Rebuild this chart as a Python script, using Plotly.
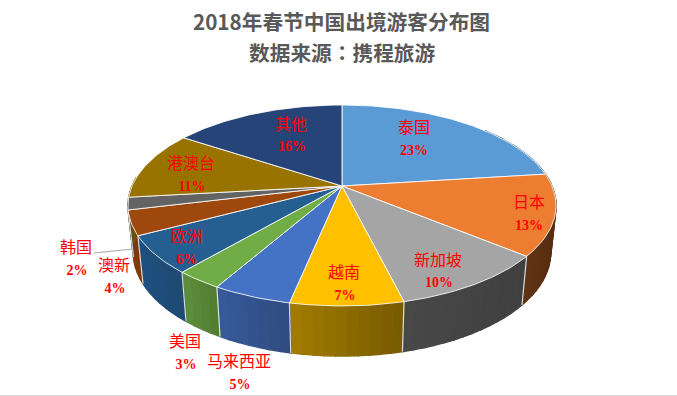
import math
import plotly.graph_objects as go

# ---- data ----
categories = ["泰国", "日本", "新加坡", "越南", "马来西亚", "美国", "欧洲", "澳新", "韩国", "港澳台", "其他"]
values = [23, 13, 10.15, 7.1, 5, 3, 6, 3.95, 2, 11.1, 15.7]
top_colors = ["#5B9BD5", "#ED7D31", "#A5A5A5", "#FFC000", "#4472C4", "#70AD47",
              "#255E91", "#9E480E", "#636363", "#997300", "#264478"]
wall_left = ["#3F6D96", "#603514", "#484848", "#A37C00", "#375A9C", "#5E8F3B",
             "#1F5080", "#843C0C", "#444444", "#6B5000", "#1A3054"]
wall_right = ["#3F6D96", "#5A3012", "#404040", "#765A00", "#2F4B7E", "#507B32",
              "#1F4A70", "#7A380B", "#444444", "#6B5000", "#1A3054"]
title_main = "2018年春节中国出境游客分布图"
title_sub = "数据来源<span style=\"font-family:'Noto Sans CJK TC'\">：</span>携程旅游"

# ---- label placement (pixels of the plot area) ----
name_pos = [(414, 129), (529, 204), (438, 262), (344, 274), (239, 363), (185, 343),
            (187, 238), (114, 267), (76, 249), (191, 165), (291, 126)]
pct_pos = [(414, 151), (529, 226), (439, 283), (345, 296), (240, 385), (186, 365),
           (187, 260), (115, 289), (77, 271), (192, 187), (292, 147)]
leader_x = [94, 133]
leader_y = [253, 249]

# ---- projection of the tilted disc ----
CX, CY = 342, 186
B, A, K = 210, 96.7, 0.194
DEPTH, WALL_SX, WALL_SY = 46.5, 0.975, 1.03


def top_pt(deg):
    r = math.radians(deg)
    u, v = math.sin(r), -math.cos(r)
    d = 1 - K * v
    return CX + B * u / d, CY + A * v / d


def low_pt(deg):
    x, y = top_pt(deg)
    return CX + (x - CX) * WALL_SX, CY + (y - CY) * WALL_SY + DEPTH


def hex_mix(c1, c2, t):
    a = [int(c1[i:i + 2], 16) for i in (1, 3, 5)]
    b = [int(c2[i:i + 2], 16) for i in (1, 3, 5)]
    return "#%02X%02X%02X" % tuple(round(p + (q - p) * t) for p, q in zip(a, b))


total = sum(values)
edges = [0]
for val in values:
    edges.append(edges[-1] + val / total * 360)

fig = go.Figure()


def poly(xs, ys, fill, line, width):
    fig.add_trace(go.Scatter(x=xs, y=ys, mode="lines", fill="toself", fillcolor=fill,
                             line=dict(color=line, width=width), hoverinfo="skip", showlegend=False))


# side walls, made of thin strips so that each one can carry its shading
STEP = 2.5
for i in range(len(values)):
    a0, a1 = max(edges[i], 50), min(edges[i + 1], 275)
    if a1 <= a0:
        continue
    n = max(1, int((a1 - a0) / STEP))
    xa, xb = top_pt(a0)[0], top_pt(a1)[0]
    lo, hi = min(xa, xb), max(xa, xb)
    for j in range(n):
        s0, s1 = a0 + (a1 - a0) * j / n, a0 + (a1 - a0) * (j + 1) / n
        t = (top_pt((s0 + s1) / 2)[0] - lo) / max(hi - lo, 1)
        col = hex_mix(wall_left[i], wall_right[i], t)
        p = [top_pt(s0), top_pt(s1), low_pt(s1), low_pt(s0), top_pt(s0)]
        poly([q[0] for q in p], [q[1] for q in p], col, col, 1.4)

# separators between the walls
for e in edges:
    if 90 < e < 260:
        p0, p1 = top_pt(e), low_pt(e)
        fig.add_trace(go.Scatter(x=[p0[0], p1[0]], y=[p0[1], p1[1]], mode="lines",
                                 line=dict(color="rgba(235,235,235,0.9)", width=1.2),
                                 hoverinfo="skip", showlegend=False))

# top face
for i in range(len(values)):
    n = max(2, int((edges[i + 1] - edges[i]) / 1))
    pts = [(CX, CY)] + [top_pt(edges[i] + (edges[i + 1] - edges[i]) * j / n) for j in range(n + 1)] + [(CX, CY)]
    poly([q[0] for q in pts], [q[1] for q in pts], top_colors[i], "rgba(255,255,255,0.85)", 1)

# leader line of the smallest label
fig.add_trace(go.Scatter(x=leader_x, y=leader_y, mode="lines", line=dict(color="#A6A6A6", width=1),
                         hoverinfo="skip", showlegend=False))

# labels
fig.add_trace(go.Scatter(x=[p[0] for p in name_pos], y=[p[1] for p in name_pos], mode="text",
                         text=categories, textposition="middle center", hoverinfo="skip", showlegend=False,
                         textfont=dict(family="Noto Sans CJK SC", size=16, color="#FF0000")))
fig.add_trace(go.Scatter(x=[p[0] for p in pct_pos], y=[p[1] for p in pct_pos], mode="text",
                         text=[f"{v / total * 100:.0f}%" for v in values], textposition="middle center",
                         hoverinfo="skip", showlegend=False,
                         textfont=dict(family="Liberation Serif", size=14, color="#FF0000", weight="bold")))

title_font = dict(family="Noto Sans CJK SC", size=20.7, color="#595959", weight="bold")
fig.update_layout(
    width=677, height=396, margin=dict(l=0, r=0, t=0, b=0),
    paper_bgcolor="white", plot_bgcolor="white", showlegend=False,
    xaxis=dict(range=[0, 677], visible=False, fixedrange=True),
    yaxis=dict(range=[396, 0], visible=False, fixedrange=True),
    title=dict(text=title_main, x=341.5 / 677, xanchor="center", y=1 - 22.5 / 396, yanchor="middle", font=title_font),
    annotations=[dict(text=title_sub, x=342, y=52, xref="x", yref="y", showarrow=False,
                      xanchor="center", yanchor="middle", font=title_font)],
    shapes=[dict(type="line", xref="x", yref="y", x0=0, x1=677, y0=395.5, y1=395.5,
                 line=dict(color="#D9D9D9", width=1))],
)
fig.write_html("out.html", post_script="document.body.style.margin='0';",
               config={"displayModeBar": False})
